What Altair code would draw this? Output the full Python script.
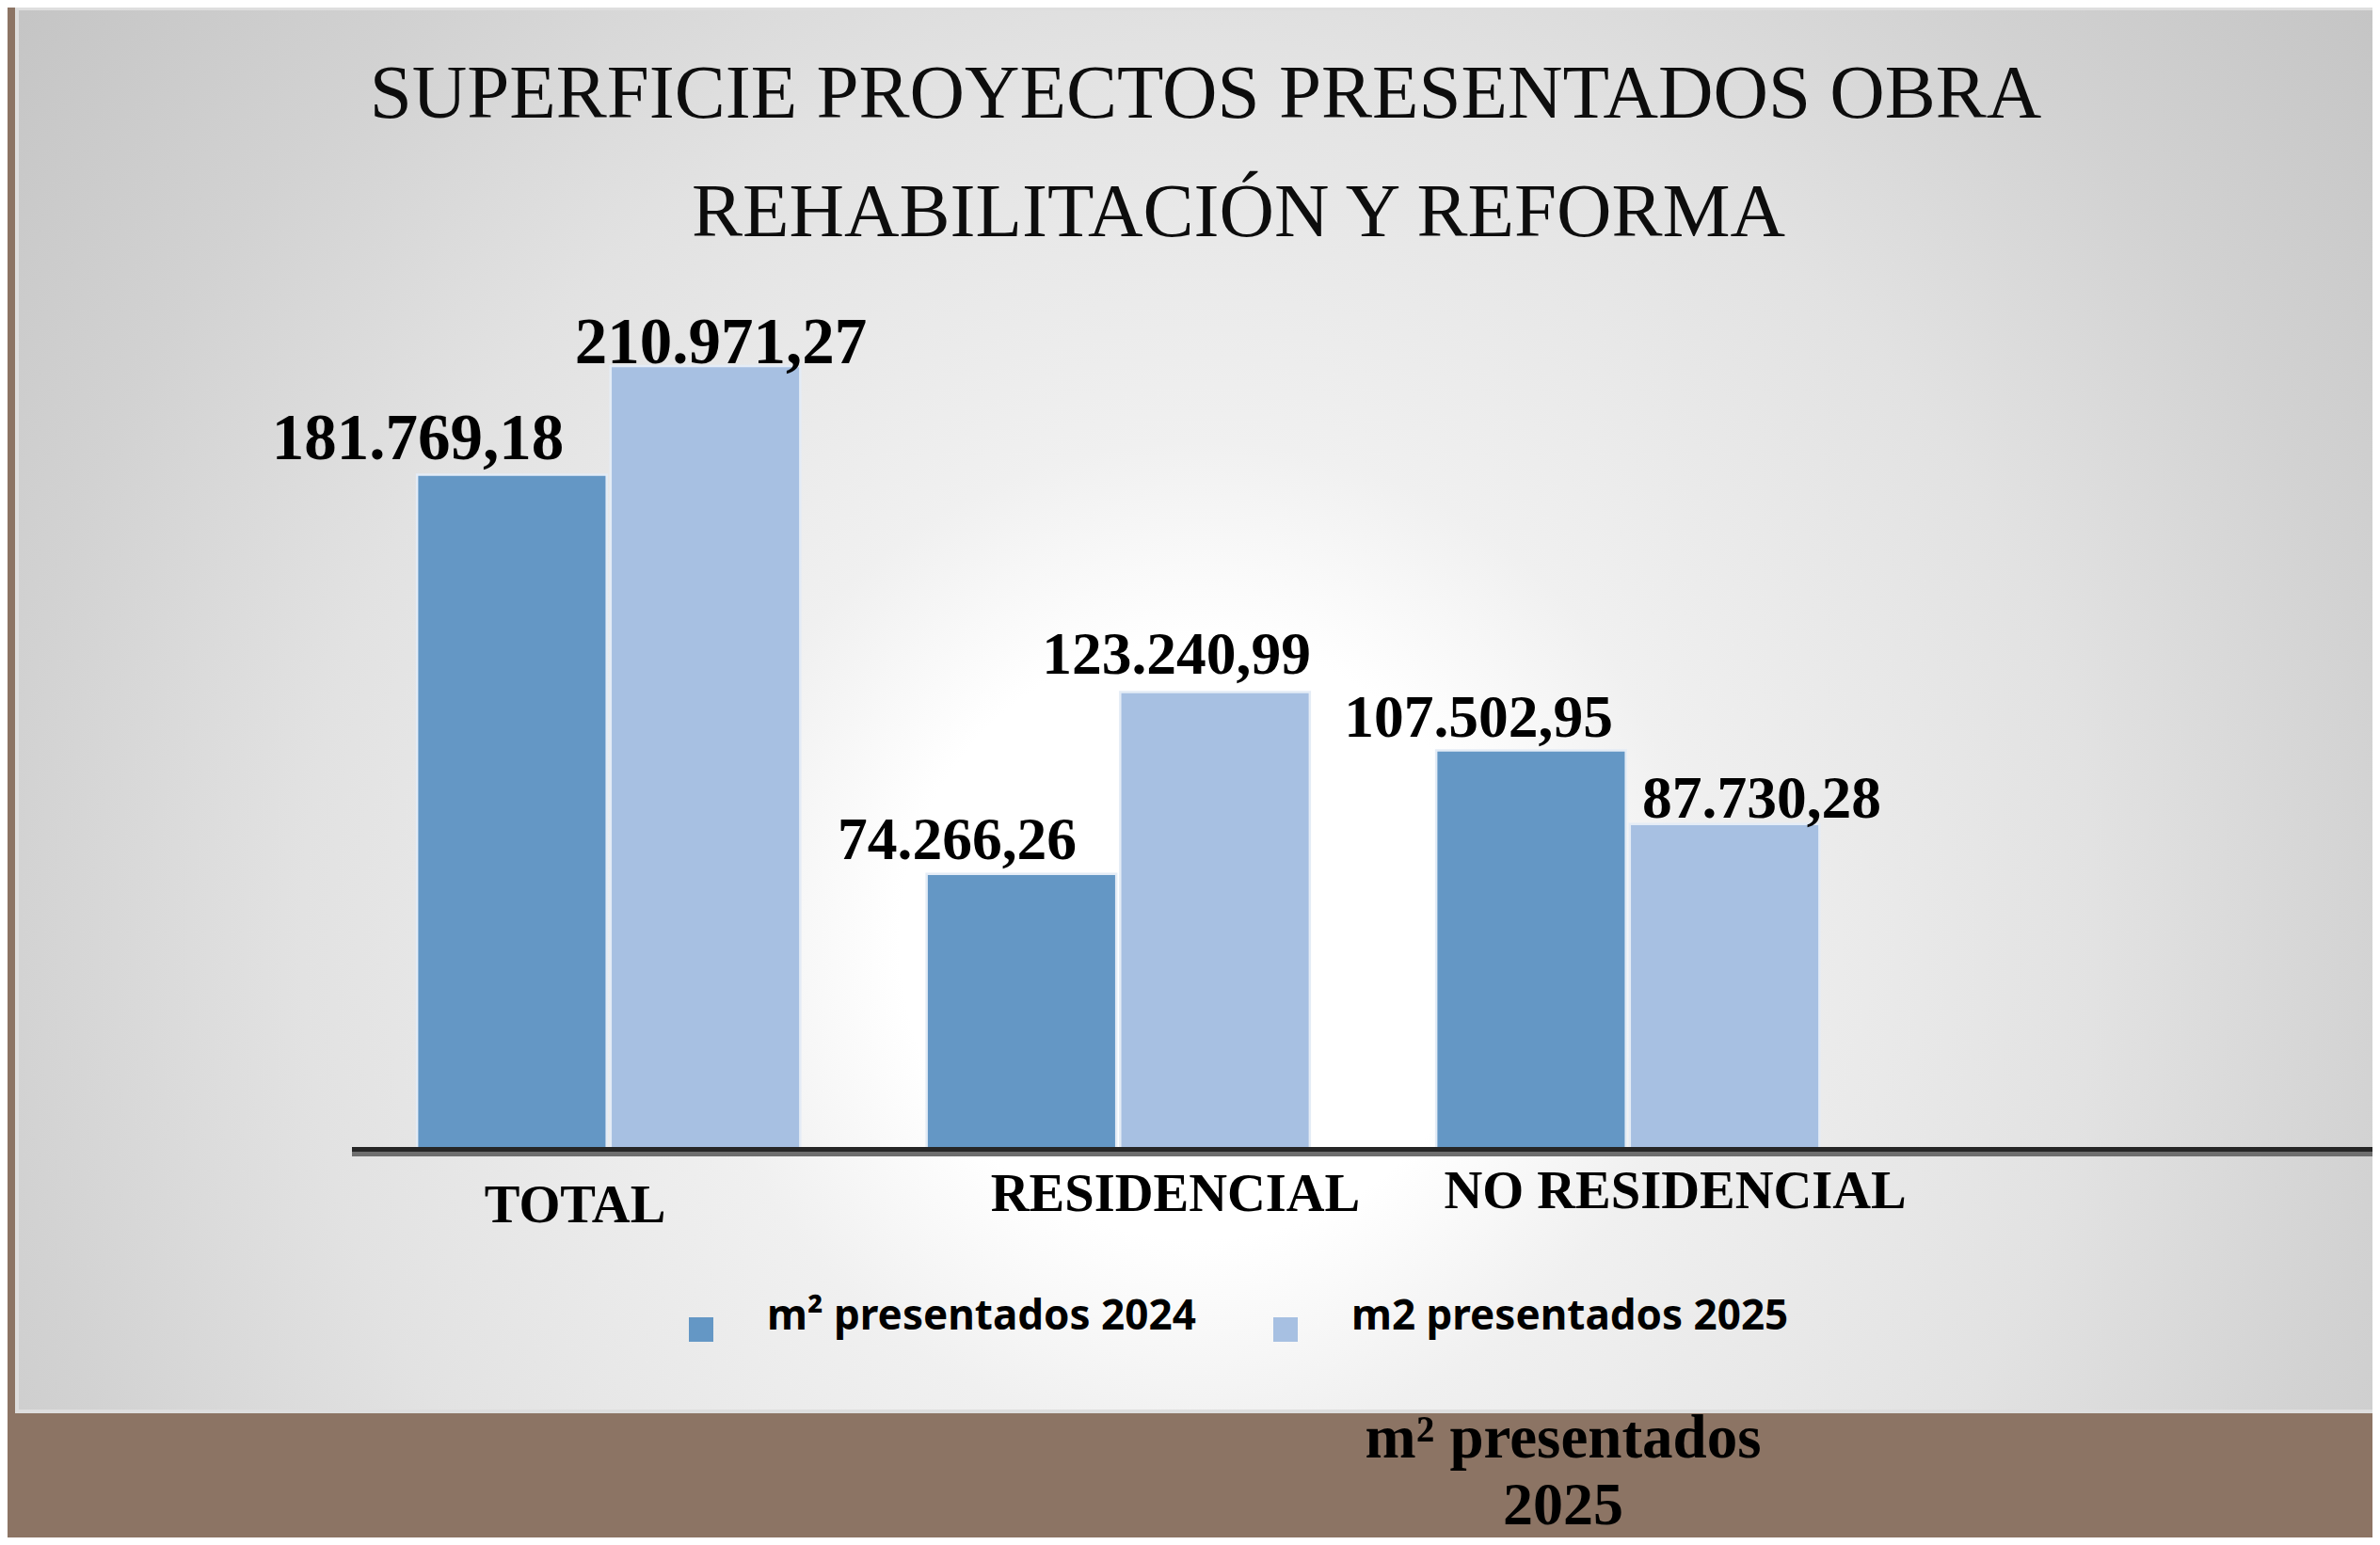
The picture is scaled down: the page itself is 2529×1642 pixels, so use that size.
import altair as alt
import pandas as pd

# ---------------- data ----------------
categories = ["TOTAL", "RESIDENCIAL", "NO RESIDENCIAL"]
series = ["m² presentados 2024", "m2 presentados 2025"]
values_2024 = [181769.18, 74266.26, 107502.95]
values_2025 = [210971.27, 123240.99, 87730.28]
title_lines = ["SUPERFICIE PROYECTOS PRESENTADOS OBRA", "REHABILITACIÓN Y REFORMA"]
footer_lines = ["m² presentados", "2025"]


def es_format(v):
    s = f"{v:,.2f}"
    return s.replace(",", "#").replace(".", ",").replace("#", ".")


rows = []
for i, c in enumerate(categories):
    for s, vals in zip(series, [values_2024, values_2025]):
        rows.append({"cat": c, "series": s, "value": vals[i], "label": es_format(vals[i])})
df = pd.DataFrame(rows)
df["idx"] = range(len(df))
df_cat = pd.DataFrame({"cat": categories, "idx": range(len(categories))})
one = pd.DataFrame({"a": [0]})

# ---------------- style ----------------
BROWN = "#8c7464"
C24 = "#6497c5"
C25 = "#a7c0e2"
PLOT_W, PLOT_H = 1624.5, 987
PAD_L, PAD_T = 368, 227
PAD_R = 2513 - PAD_L - PLOT_W
PAD_B = 1626 - PAD_T - PLOT_H

x_enc = alt.X("cat:N", sort=categories,
              scale=alt.Scale(paddingInner=0.248, paddingOuter=0.124), axis=None)
xo_enc = alt.XOffset("series:N", sort=series,
                     scale=alt.Scale(paddingInner=0.02, paddingOuter=0))
y_enc = alt.Y("value:Q", scale=alt.Scale(domain=[0, 250000], nice=False, zero=True), axis=None)

# background panel with radial gradient
bg_grad = alt.RadialGradient(
    gradient="radial",
    x1=0.498, y1=0.597, r1=0,
    x2=0.498, y2=0.597, r2=0.7,
    stops=[
        alt.GradientStop(color="#ffffff", offset=0),
        alt.GradientStop(color="#ffffff", offset=0.18),
        alt.GradientStop(color="#f0f0f0", offset=0.3),
        alt.GradientStop(color="#e2e2e2", offset=0.54),
        alt.GradientStop(color="#d2d2d2", offset=0.72),
        alt.GradientStop(color="#c5c5c5", offset=0.9),
        alt.GradientStop(color="#c2c2c2", offset=1),
    ],
)
background = alt.Chart(one).mark_rect(fill=bg_grad, stroke="#dedede", strokeWidth=4).encode(
    x=alt.value(-358), x2=alt.value(2164), y=alt.value(-226), y2=alt.value(1265)
)

bars = alt.Chart(df).mark_bar(stroke="#e4ecf6", strokeWidth=2.5).encode(
    x=x_enc,
    xOffset=xo_enc,
    y=y_enc,
    color=alt.Color(
        "series:N", sort=series,
        scale=alt.Scale(domain=series, range=[C24, C25]),
        legend=alt.Legend(
            orient="none", legendX=347, legendY=1156, direction="horizontal",
            title=None, symbolType="square", symbolSize=676, symbolStrokeWidth=0,
            symbolOpacity=1, labelFont="Noto Sans", labelFontSize=44,
            labelFontWeight="bold", labelColor="#000000", labelOffset=48,
            columnPadding=73, padding=0, labelLimit=1000, labelBaseline="alphabetic",
        ),
    ),
)

# axis baseline (double line)
rule_dark = alt.Chart(one).mark_rule(color="#262626", strokeWidth=5).encode(
    x=alt.value(-2), x2=alt.value(2164), y=alt.value(986.5)
)
rule_grey = alt.Chart(one).mark_rule(color="#6e6e6e", strokeWidth=5).encode(
    x=alt.value(-2), x2=alt.value(2164), y=alt.value(991.5)
)

# value labels (individually nudged as in the original)
label_dx = [-99.9, 16.5, -68.4, -41.0, -55.9, 39.5]
label_dy = [-16.4, -3.0, -16.0, -19.4, -14.6, -6.6]
label_fs = [69, 69, 63.5, 63.5, 63.5, 63.5]
value_labels = []
for i in range(len(df)):
    value_labels.append(
        alt.Chart(df).transform_filter(alt.datum.idx == i).mark_text(
            font="Liberation Serif", fontWeight="bold", fontSize=label_fs[i],
            color="#000000", align="center", baseline="alphabetic",
            dx=label_dx[i], dy=label_dy[i],
        ).encode(x=x_enc, xOffset=xo_enc, y=y_enc, text="label:N")
    )

# category labels
cat_dx = [-35.7, 60.8, 50.3]
cat_dy = [77, 65, 62]
cat_labels = []
for i in range(len(categories)):
    cat_labels.append(
        alt.Chart(df_cat).transform_filter(alt.datum.idx == i).mark_text(
            font="Liberation Serif", fontWeight="bold", fontSize=56.5,
            color="#000000", align="center", baseline="alphabetic",
            dx=cat_dx[i], dy=cat_dy[i],
        ).encode(x=x_enc, y=alt.datum(0), text="cat:N")
    )

# title lines
title_pos = [(905, -110), (940, 16)]
titles = []
for t, (tx, ty) in zip(title_lines, title_pos):
    titles.append(
        alt.Chart(one).mark_text(
            text=t, font="Liberation Serif", fontSize=81, color="#0d0d0d",
            align="center", baseline="alphabetic",
        ).encode(x=alt.value(tx), y=alt.value(ty))
    )

# footer text in brown band
footer_spec = [(1285, 1314, 65), (1285, 1385, 64)]
footers = []
for t, (tx, ty, fs) in zip(footer_lines, footer_spec):
    footers.append(
        alt.Chart(one).mark_text(
            text=t, font="Liberation Serif", fontWeight="bold", fontSize=fs,
            color="#000000", align="center", baseline="alphabetic",
        ).encode(x=alt.value(tx), y=alt.value(ty))
    )

chart = alt.layer(
    background, bars, rule_dark, rule_grey, *value_labels, *cat_labels, *titles, *footers
).properties(
    width=PLOT_W, height=PLOT_H,
    padding={"left": PAD_L, "top": PAD_T, "right": PAD_R, "bottom": PAD_B},
    autosize=alt.AutoSizeParams(type="none"),
    background=BROWN,
).configure_view(stroke=None)

chart.save("out.html", embed_options={"renderer": "svg", "actions": False})
